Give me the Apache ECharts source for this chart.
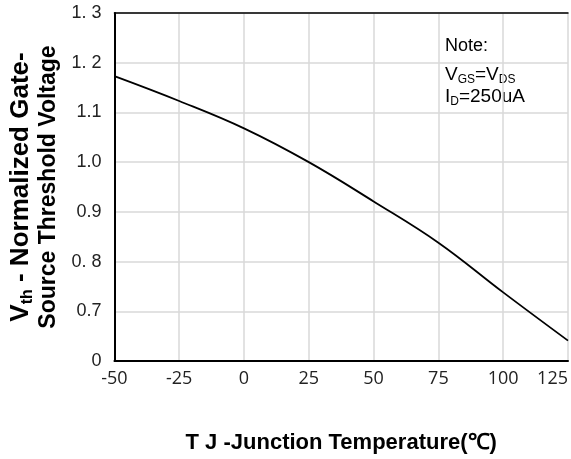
<!DOCTYPE html>
<html>
<head>
<meta charset="utf-8">
<script src="https://cdn.jsdelivr.net/npm/echarts@6/dist/echarts.min.js"></script>
<style>
  html, body { margin: 0; padding: 0; background: #fff; }
  #main { width: 571px; height: 459px; }
</style>
</head>
<body>
<div id="main"></div>
<script>
// junction temperature (C) and normalized Vth
const temps = [-50, -25, 0, 25, 50, 75, 100, 125];
const vth = [1.173, 1.123, 1.068, 1.0, 0.921, 0.838, 0.738, 0.641];

const yTickLabels = ['0', '0.7', '0. 8', '0.9', '1.0', '1.1', '1. 2', '1. 3'];
const xTickLabels = ['-50', '-25', '0', '25', '50', '75', '100', '125'];

const chart = echarts.init(document.getElementById('main'));

const option = {
    animation: false,
    grid: {
        left: 113,
        right: 0,
        top: 13,
        bottom: 95
    },
    xAxis: [
        {
            type: 'value',
            min: -50,
            max: 125,
            interval: 25,
            axisLine: { onZero: false, lineStyle: { color: '#000', width: 2 } },
            axisTick: { show: false },
            splitLine: { lineStyle: { color: '#d9d9d9', width: 1.5 } },
            axisLabel: {
                margin: 9,
                fontFamily: 'Open Sans',
                fontSize: 18,
                color: '#222',
                alignMaxLabel: 'right',
                formatter: (v) => xTickLabels[temps.indexOf(v)] ?? ''
            },
            name: 'T J -Junction Temperature(℃)',
            nameLocation: 'middle',
            nameGap: 71,
            nameTextStyle: {
                fontFamily: 'Liberation Sans, Arial',
                fontWeight: 'bold',
                fontSize: 22,
                color: '#000'
            }
        },
        {
            type: 'value',
            position: 'top',
            min: -50,
            max: 125,
            axisLine: { show: true, onZero: false, lineStyle: { color: '#000', width: 1.5 } },
            axisTick: { show: false },
            axisLabel: { show: false },
            splitLine: { show: false }
        }
    ],
    yAxis: {
        type: 'value',
        min: 0.6,
        max: 1.3,
        interval: 0.1,
        axisLine: { show: true, onZero: false, lineStyle: { color: '#000', width: 2 } },
        axisTick: { show: false },
        splitLine: { lineStyle: { color: '#d9d9d9', width: 1.5 } },
        axisLabel: {
            margin: 13,
            fontFamily: 'Liberation Sans, Arial',
            fontSize: 18,
            color: '#222',
            formatter: (v) => yTickLabels[Math.round((v - 0.6) * 10)]
        },
        name: '{b1|V}{s|th}{b1| - Normalized Gate-}\n{b|Source Threshold Voltage}',
        nameLocation: 'middle',
        nameGap: 50,
        nameTextStyle: {
            rich: {
                b1: {
                    fontFamily: 'Liberation Sans, Arial',
                    fontWeight: 'bold',
                    fontSize: 26,
                    lineHeight: 29,
                    color: '#000'
                },
                b: {
                    fontFamily: 'Liberation Sans, Arial',
                    fontWeight: 'bold',
                    fontSize: 23,
                    lineHeight: 27,
                    color: '#000'
                },
                s: {
                    fontFamily: 'Liberation Sans, Arial',
                    fontWeight: 'bold',
                    fontSize: 16,
                    lineHeight: 18,
                    verticalAlign: 'bottom',
                    color: '#000'
                }
            }
        }
    },
    graphic: [
        {
            type: 'text',
            left: 445,
            top: 37,
            style: {
                text: 'Note:',
                fontFamily: 'Liberation Sans, Arial',
                fontSize: 18,
                fill: '#000'
            }
        },
        {
            type: 'text',
            left: 445,
            top: 65,
            style: {
                text: '{n|V}{s|GS}{n|=V}{s|DS}',
                rich: {
                    n: { fontFamily: 'Liberation Sans, Arial', fontSize: 19, lineHeight: 22, fill: '#000' },
                    s: { fontFamily: 'Liberation Sans, Arial', fontSize: 12, lineHeight: 12, verticalAlign: 'bottom', fill: '#000' }
                }
            }
        },
        {
            type: 'text',
            left: 445,
            top: 87,
            style: {
                text: '{n|I}{s|D}{n|=250uA}',
                rich: {
                    n: { fontFamily: 'Liberation Sans, Arial', fontSize: 19, lineHeight: 22, fill: '#000' },
                    s: { fontFamily: 'Liberation Sans, Arial', fontSize: 12, lineHeight: 12, verticalAlign: 'bottom', fill: '#000' }
                }
            }
        }
    ],
    series: [
        {
            type: 'line',
            smooth: 0.4,
            showSymbol: false,
            lineStyle: { color: '#000', width: 1.8 },
            data: temps.map((t, i) => [t, vth[i]])
        }
    ]
};

chart.setOption(option);
</script>
</body>
</html>
